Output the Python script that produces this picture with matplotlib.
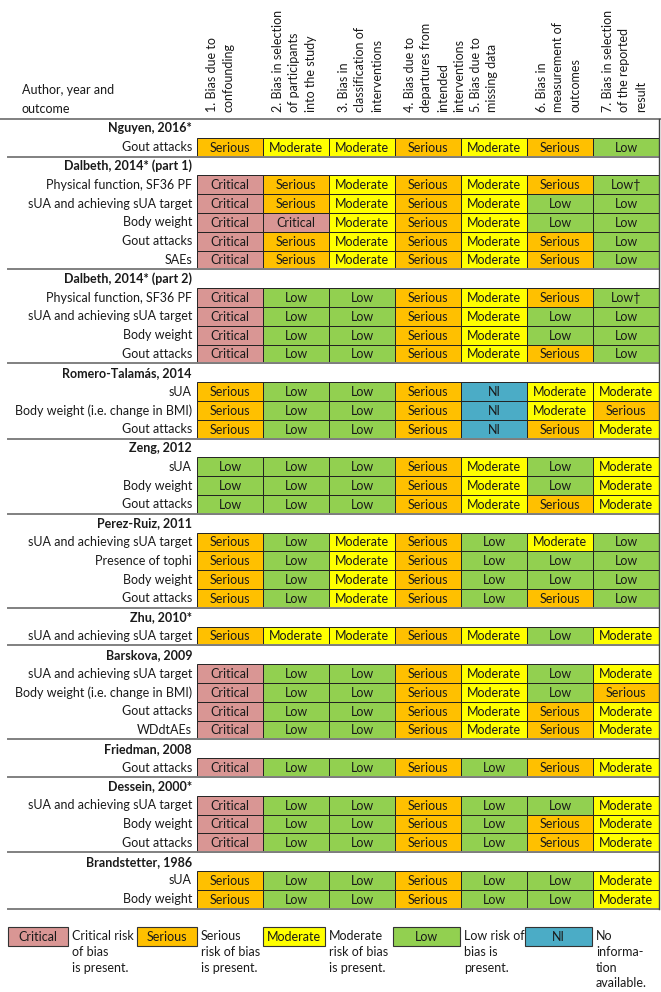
import matplotlib.pyplot as plt
from matplotlib.patches import Rectangle

plt.rcParams['font.family'] = ['Lato', 'DejaVu Sans']

domains = [
    "1. Bias due to\nconfounding",
    "2. Bias in selection\nof participants\ninto the study",
    "3. Bias in\nclassification of\ninterventions",
    "4. Bias due to\ndepartures from\nintended\ninterventions",
    "5. Bias due to\nmissing data",
    "6. Bias in\nmeasurement of\noutcomes",
    "7. Bias in selection\nof the reported\nresult",
]

studies = [
    "Nguyen, 2016*", "Dalbeth, 2014* (part 1)", "Dalbeth, 2014* (part 2)",
    "Romero-Talamás, 2014", "Zeng, 2012", "Perez-Ruiz, 2011", "Zhu, 2010*",
    "Barskova, 2009", "Friedman, 2008", "Dessein, 2000*", "Brandstetter, 1986",
]

outcomes = [
    ["Gout attacks"],
    ["Physical function, SF36 PF", "sUA and achieving sUA target", "Body weight",
     "Gout attacks", "SAEs"],
    ["Physical function, SF36 PF", "sUA and achieving sUA target", "Body weight",
     "Gout attacks"],
    ["sUA", "Body weight (i.e. change in BMI)", "Gout attacks"],
    ["sUA", "Body weight", "Gout attacks"],
    ["sUA and achieving sUA target", "Presence of tophi", "Body weight", "Gout attacks"],
    ["sUA and achieving sUA target"],
    ["sUA and achieving sUA target", "Body weight (i.e. change in BMI)",
     "Gout attacks", "WDdtAEs"],
    ["Gout attacks"],
    ["sUA and achieving sUA target", "Body weight", "Gout attacks"],
    ["sUA", "Body weight"],
]

ratings = [
    [["Serious", "Moderate", "Moderate", "Serious", "Moderate", "Serious", "Low"]],
    [["Critical", "Serious", "Moderate", "Serious", "Moderate", "Serious", "Low†"],
     ["Critical", "Serious", "Moderate", "Serious", "Moderate", "Low", "Low"],
     ["Critical", "Critical", "Moderate", "Serious", "Moderate", "Low", "Low"],
     ["Critical", "Serious", "Moderate", "Serious", "Moderate", "Serious", "Low"],
     ["Critical", "Serious", "Moderate", "Serious", "Moderate", "Serious", "Low"]],
    [["Critical", "Low", "Low", "Serious", "Moderate", "Serious", "Low†"],
     ["Critical", "Low", "Low", "Serious", "Moderate", "Low", "Low"],
     ["Critical", "Low", "Low", "Serious", "Moderate", "Low", "Low"],
     ["Critical", "Low", "Low", "Serious", "Moderate", "Serious", "Low"]],
    [["Serious", "Low", "Low", "Serious", "NI", "Moderate", "Moderate"],
     ["Serious", "Low", "Low", "Serious", "NI", "Moderate", "Serious"],
     ["Serious", "Low", "Low", "Serious", "NI", "Serious", "Moderate"]],
    [["Low", "Low", "Low", "Serious", "Moderate", "Low", "Moderate"],
     ["Low", "Low", "Low", "Serious", "Moderate", "Low", "Moderate"],
     ["Low", "Low", "Low", "Serious", "Moderate", "Serious", "Moderate"]],
    [["Serious", "Low", "Moderate", "Serious", "Low", "Moderate", "Low"],
     ["Serious", "Low", "Moderate", "Serious", "Low", "Low", "Low"],
     ["Serious", "Low", "Moderate", "Serious", "Low", "Low", "Low"],
     ["Serious", "Low", "Moderate", "Serious", "Low", "Serious", "Low"]],
    [["Serious", "Moderate", "Moderate", "Serious", "Moderate", "Low", "Moderate"]],
    [["Critical", "Low", "Low", "Serious", "Moderate", "Low", "Moderate"],
     ["Critical", "Low", "Low", "Serious", "Moderate", "Low", "Serious"],
     ["Critical", "Low", "Low", "Serious", "Moderate", "Serious", "Moderate"],
     ["Critical", "Low", "Low", "Serious", "Moderate", "Serious", "Moderate"]],
    [["Critical", "Low", "Low", "Serious", "Low", "Serious", "Moderate"]],
    [["Critical", "Low", "Low", "Serious", "Low", "Low", "Moderate"],
     ["Critical", "Low", "Low", "Serious", "Low", "Serious", "Moderate"],
     ["Critical", "Low", "Low", "Serious", "Low", "Serious", "Moderate"]],
    [["Serious", "Low", "Low", "Serious", "Low", "Low", "Moderate"],
     ["Serious", "Low", "Low", "Serious", "Low", "Low", "Moderate"]],
]

legend_keys = ["Critical", "Serious", "Moderate", "Low", "NI"]
legend_texts = [
    "Critical risk\nof bias\nis present.",
    "Serious\nrisk of bias\nis present.",
    "Moderate\nrisk of bias\nis present.",
    "Low risk of\nbias is\npresent.",
    "No\ninforma-\ntion\navailable.",
]

colors = {
    "Critical": "#D99694",
    "Serious": "#FFC000",
    "Moderate": "#FFFF00",
    "Low": "#92D050",
    "NI": "#4BACC6",
}

# layout (pixel units)
W, H = 661, 992
LEFT = 197
COL_W = 66
TOP = 119
ROW_H = 18.8
FS = 9.0
TXT = "#1a1a1a"
SEP = "#808080"

fig = plt.figure(figsize=(W / 100, H / 100), dpi=100)
ax = fig.add_axes([0, 0, 1, 1])
ax.set_xlim(0, W)
ax.set_ylim(H, 0)
ax.axis('off')

# header
ax.text(22, 115, "Author, year and\noutcome", ha='left', va='bottom',
        fontsize=FS, color=TXT, linespacing=1.75)
for j, d in enumerate(domains):
    ax.text(LEFT + j * COL_W + 9, 112, d, rotation=90, ha='left', va='bottom',
            multialignment='left', fontsize=FS, color=TXT, linespacing=1.45)
ax.plot([0, W], [TOP, TOP], color=SEP, lw=1.4)

row = 0
for study, outs, rats in zip(studies, outcomes, ratings):
    y0 = TOP + row * ROW_H
    if row > 0:
        ax.plot([8, 659], [y0, y0], color=SEP, lw=1.4)
    ax.text(LEFT - 5, y0 + ROW_H / 2, study, ha='right', va='center',
            fontsize=FS, fontweight='bold', color=TXT)
    row += 1
    for out, r in zip(outs, rats):
        y = TOP + row * ROW_H
        ax.text(LEFT - 5, y + ROW_H / 2, out, ha='right', va='center',
                fontsize=FS, color=TXT)
        for j, v in enumerate(r):
            key = v.rstrip('†')
            ax.add_patch(Rectangle((LEFT + j * COL_W, y), COL_W, ROW_H,
                                   facecolor=colors[key], edgecolor='#222222', lw=0.7))
            ax.text(LEFT + j * COL_W + COL_W / 2, y + ROW_H / 2 + 0.5, v,
                    ha='center', va='center', fontsize=FS, color=TXT)
        row += 1

bottom = TOP + row * ROW_H
ax.plot([8, 659], [bottom, bottom], color=SEP, lw=1.4)
ax.plot([659, 659], [TOP, bottom], color='#444444', lw=1.0)

# legend
leg_x = [8, 137, 263, 393, 525]
leg_w = [60, 60, 62, 67, 67]
leg_y = 927
for x, w, k, t in zip(leg_x, leg_w, legend_keys, legend_texts):
    ax.add_patch(Rectangle((x, leg_y), w, 19, facecolor=colors[k],
                           edgecolor='#333333', lw=0.8))
    ax.text(x + w / 2, leg_y + 10, k, ha='center', va='center', fontsize=FS, color=TXT)
    ax.text(x + w + 4, leg_y + 3, t, ha='left', va='top', fontsize=FS, color=TXT,
            linespacing=1.38)

fig.savefig('out.png', dpi=100)
